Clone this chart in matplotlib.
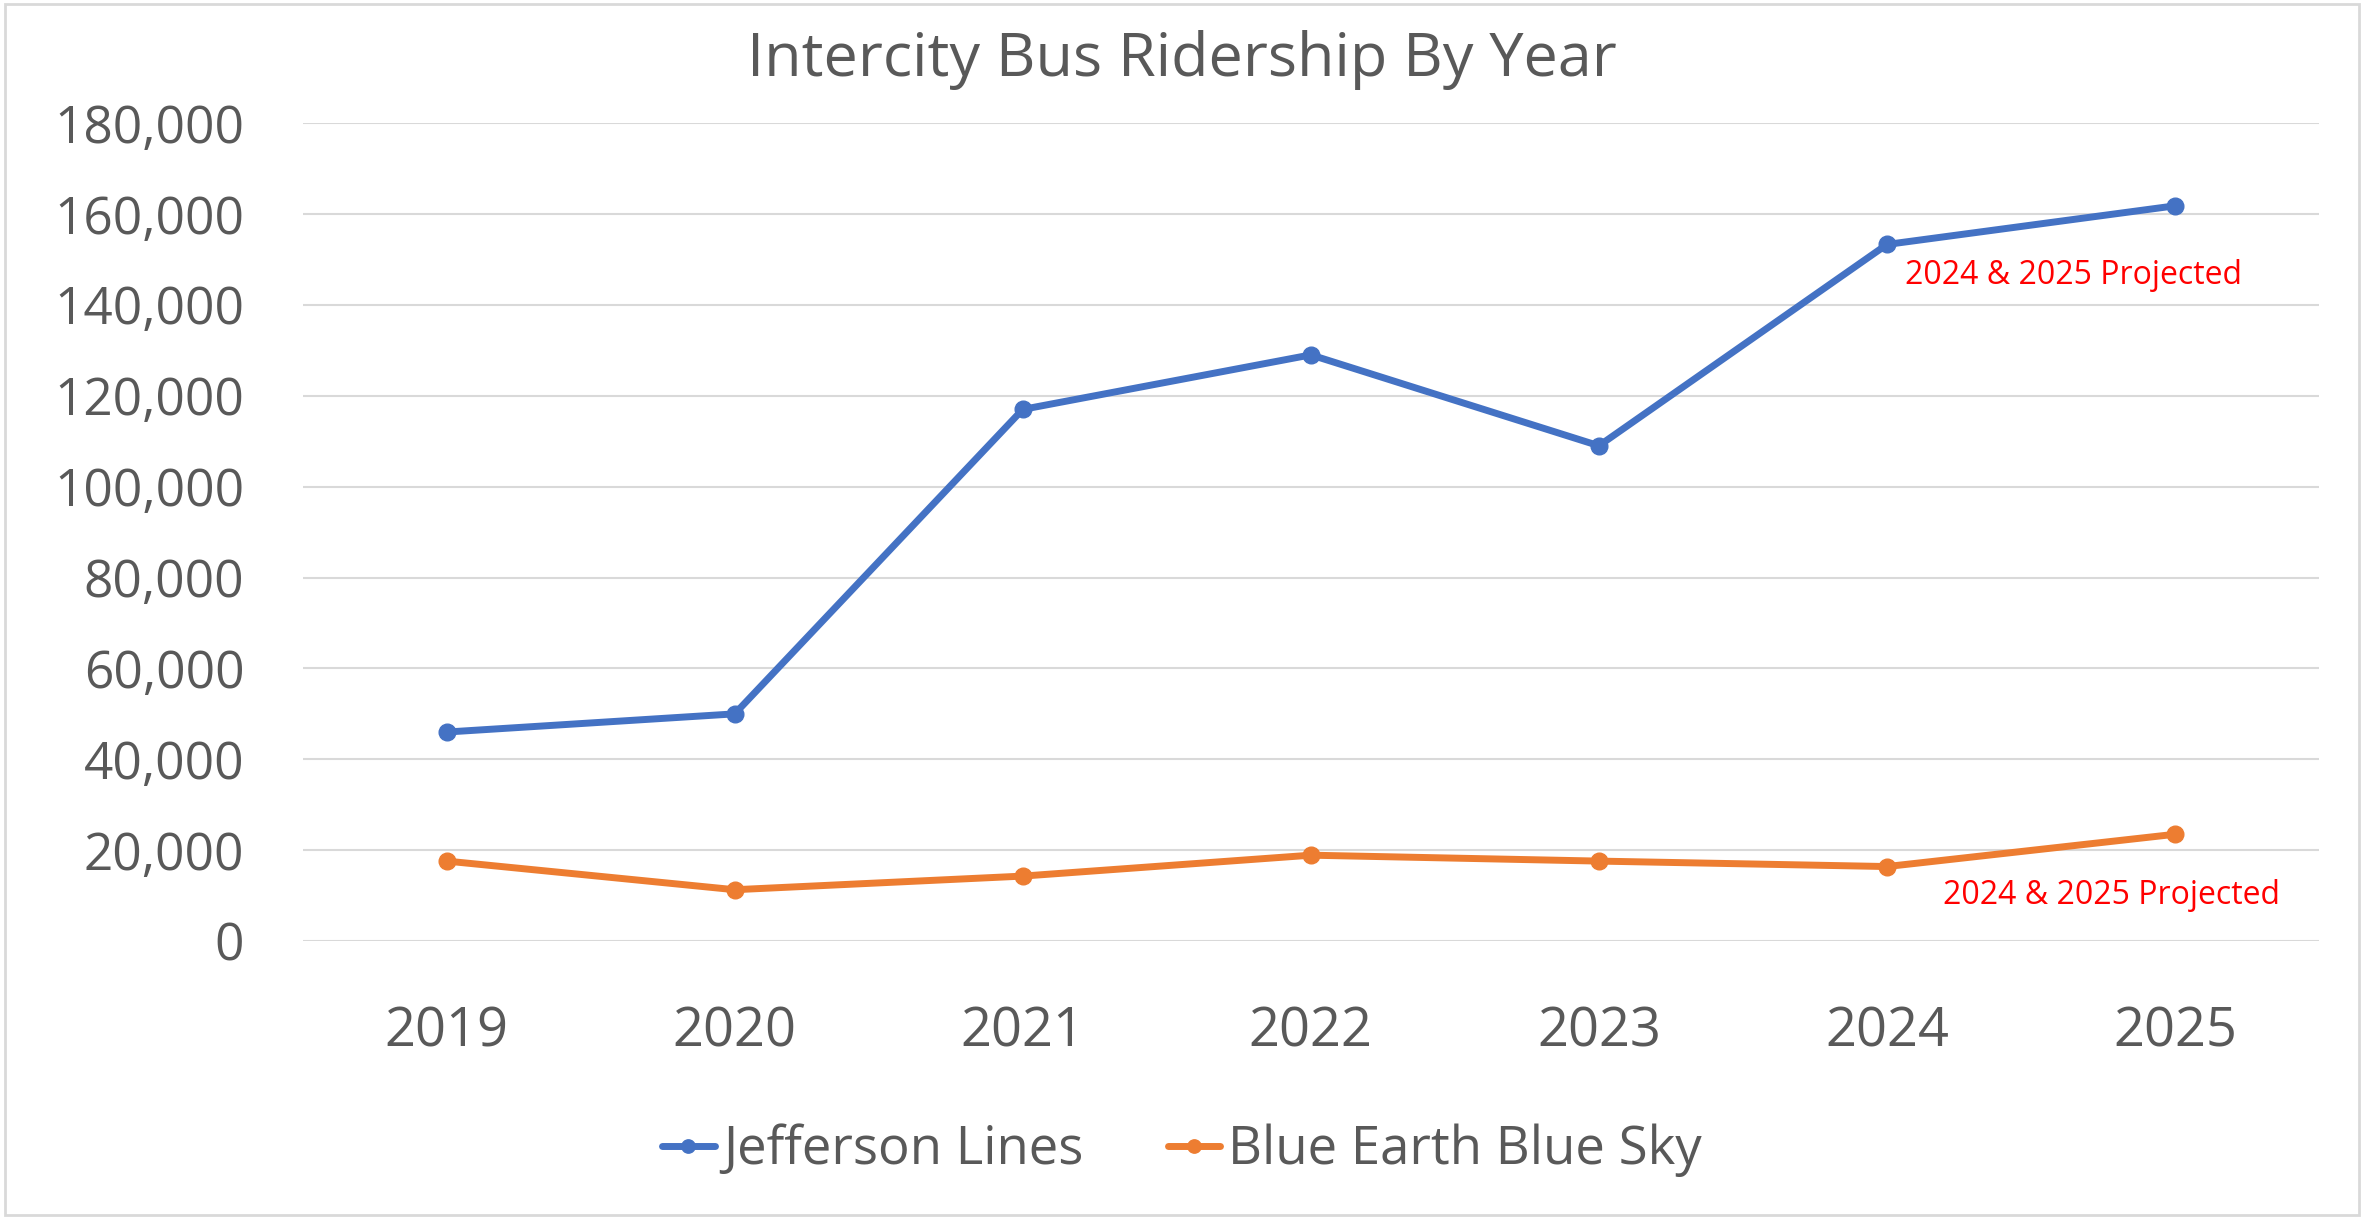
import matplotlib
matplotlib.use("Agg")
import matplotlib.pyplot as plt
from matplotlib.patches import Rectangle
from matplotlib.ticker import FuncFormatter

# Daten
years = ["2019", "2020", "2021", "2022", "2023", "2024", "2025"]
jefferson = [46000, 50000, 117000, 129000, 109000, 153300, 161800]
blue_earth = [17600, 11300, 14300, 18900, 17600, 16400, 23500]
note_text = "2024 & 2025 Projected"

plt.rcParams["font.family"] = ["Open Sans", "DejaVu Sans"]
text_grey = "#595959"

fig = plt.figure(figsize=(23.64, 12.19), dpi=100)
ax = fig.add_axes([0.128, 0.228, 0.853, 0.671])

x = list(range(len(years)))
ax.plot(x, jefferson, color="#4472C4", lw=5, marker="o", ms=12,
        label="Jefferson Lines", solid_capstyle="round")
ax.plot(x, blue_earth, color="#ED7D31", lw=5, marker="o", ms=12,
        label="Blue Earth Blue Sky", solid_capstyle="round")

# Hinweise
ax.annotate(note_text, xy=(5, jefferson[5]), xytext=(13, -22),
            textcoords="offset points", color="red", fontsize=23,
            ha="left", va="center")
ax.annotate(note_text, xy=(5, blue_earth[5]), xytext=(40, -21),
            textcoords="offset points", color="red", fontsize=23,
            ha="left", va="center")

# Achsen
ax.set_xlim(-0.5, 6.5)
ax.set_ylim(0, 180000)
ax.set_yticks(range(0, 180001, 20000))
ax.yaxis.set_major_formatter(FuncFormatter(lambda v, p: f"{int(v):,}"))
ax.set_xticks(x)
ax.set_xticklabels(years)
ax.tick_params(axis="both", length=0, colors=text_grey)
ax.tick_params(axis="x", pad=46, labelsize=39)
ax.tick_params(axis="y", pad=42, labelsize=37)
ax.grid(axis="y", color="#D9D9D9", lw=1.5)
ax.set_axisbelow(True)
for s in ax.spines.values():
    s.set_visible(False)

fig.suptitle("Intercity Bus Ridership By Year", y=0.975, fontsize=44,
             color=text_grey)

fig.legend(loc="center", bbox_to_anchor=(0.5, 0.056), ncol=2, frameon=False,
           fontsize=38, labelcolor=text_grey, handlelength=1.0,
           handletextpad=0.15, columnspacing=1.6, markerscale=0.8)

# Rahmen
fig.add_artist(Rectangle((0.002, 0.003), 0.996, 0.994, transform=fig.transFigure,
                         fill=False, edgecolor="#D9D9D9", lw=2))

fig.savefig("out.png", dpi=100)
